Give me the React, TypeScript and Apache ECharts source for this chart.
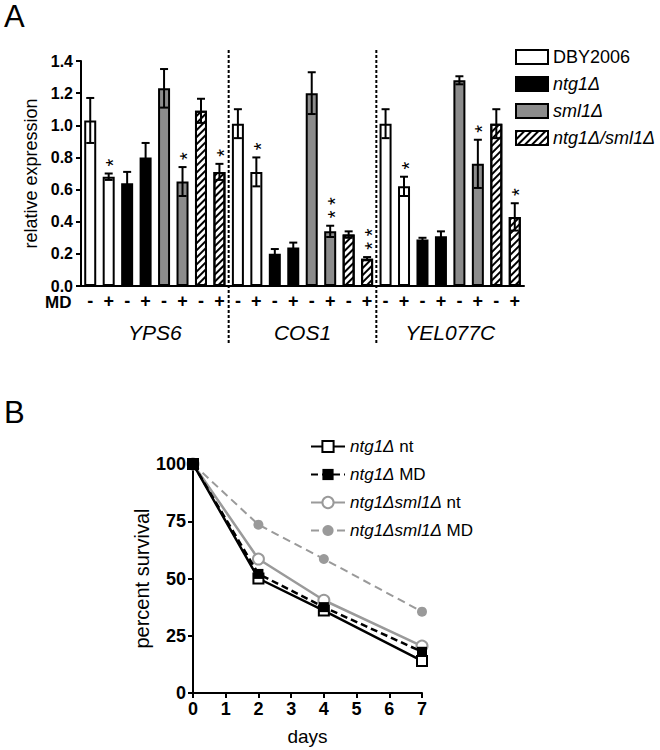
import React, { useEffect, useRef } from 'react';
import * as echarts from 'echarts';

const FONT = '"Liberation Sans", Arial, sans-serif';

// ---------- Panel A data ----------
const genes = ['YPS6', 'COS1', 'YEL077C'];
const strains = ['DBY2006', 'ntg1Δ', 'sml1Δ', 'ntg1Δ/sml1Δ'];
const treatments = ['-', '+'];
// values ordered per gene: [gene1 -, gene1 +, gene2 -, gene2 +, gene3 -, gene3 +]
const dby2006Mean = [1.03, 0.68, 1.01, 0.71, 1.01, 0.62];
const dby2006Err = [0.14, 0.02, 0.09, 0.09, 0.09, 0.06];
const dby2006Stars = [0, 1, 0, 1, 0, 1];
const ntg1Mean = [0.64, 0.8, 0.2, 0.24, 0.29, 0.31];
const ntg1Err = [0.07, 0.09, 0.03, 0.03, 0.01, 0.03];
const ntg1Stars = [0, 0, 0, 0, 0, 0];
const sml1Mean = [1.23, 0.65, 1.2, 0.34, 1.28, 0.76];
const sml1Err = [0.12, 0.09, 0.13, 0.035, 0.025, 0.15];
const sml1Stars = [0, 1, 0, 2, 0, 1];
const doubleMean = [1.09, 0.71, 0.32, 0.17, 1.01, 0.43];
const doubleErr = [0.075, 0.05, 0.02, 0.01, 0.09, 0.085];
const doubleStars = [0, 1, 0, 2, 0, 1];
const yTicksA = { min: 0, max: 1.4, interval: 0.2 };

// ---------- Panel B data ----------
const days = [0, 2, 4, 7];
const ntg1Nt = [100, 50, 36, 14];
const ntg1Md = [100, 52, 37.5, 18];
const doubleNt = [100, 58.5, 40.5, 20.5];
const doubleMd = [100, 73.5, 58.5, 35.5];
const survivalNames = ['ntg1Δ nt', 'ntg1Δ MD', 'ntg1Δsml1Δ nt', 'ntg1Δsml1Δ MD'];

const strainMeans = [dby2006Mean, ntg1Mean, sml1Mean, doubleMean];
const strainErrs = [dby2006Err, ntg1Err, sml1Err, doubleErr];
const strainStars = [dby2006Stars, ntg1Stars, sml1Stars, doubleStars];

const hatch = {
  symbol: 'rect',
  symbolSize: 1,
  color: '#000',
  dashArrayX: [1, 0],
  dashArrayY: [1.5, 3],
  rotation: -Math.PI / 4,
};
const strainStyles: any[] = [
  { color: '#fff' },
  { color: '#000' },
  { color: '#8c8c8c' },
  { color: '#fff', decal: hatch },
];

export default function App() {
  const ref = useRef<HTMLDivElement>(null);
  useEffect(() => {
    if (!ref.current) return;
    const chart = echarts.init(ref.current, null, { renderer: 'svg' });

    const categories: string[] = [];
    genes.forEach((g) => strains.forEach((s) => treatments.forEach((t) => categories.push(`${g}|${s}|${t}`))));
    const idxOf = (g: number, s: number, t: number) => g * 8 + s * 2 + t;

    const barSeries = strains.map((name, s) => {
      const data: any[] = categories.map(() => '-');
      genes.forEach((_, g) => treatments.forEach((__, t) => {
        data[idxOf(g, s, t)] = strainMeans[s][g * 2 + t];
      }));
      return {
        type: 'bar',
        name,
        xAxisIndex: 0,
        yAxisIndex: 0,
        data,
        barWidth: 12,
        barGap: '-100%',
        itemStyle: { ...strainStyles[s], borderColor: '#000', borderWidth: 2 },
        emphasis: { disabled: true },
      };
    });

    const errData: number[][] = [];
    strains.forEach((_, s) => genes.forEach((__, g) => treatments.forEach((___, t) => {
      const k = g * 2 + t;
      const m = strainMeans[s][k];
      const e = strainErrs[s][k];
      errData.push([idxOf(g, s, t), m - e, m + e, strainStars[s][k]]);
    })));

    const gridA = { left: 81, top: 61, width: 443, height: 225 };
    const pitch = gridA.width / categories.length;
    const sepXs = [8, 16].map((k) => gridA.left + k * pitch);

    const lineColorGray = '#9a9a9a';

    const legendFmtA = (name: string) => (name === 'DBY2006' ? name : `{i|${name}}`);
    const legendFmtB = (name: string) => {
      const p = name.lastIndexOf(' ');
      return `{i|${name.slice(0, p)}}{n| ${name.slice(p + 1)}}`;
    };

    const option: any = {
      animation: false,
      textStyle: { fontFamily: FONT, color: '#000' },
      grid: [
        { ...gridA, containLabel: false },
        { left: 193, top: 464, width: 229, height: 229, containLabel: false },
      ],
      legend: [
        {
          data: strains,
          orient: 'vertical',
          left: 515,
          top: 48,
          padding: 0,
          itemWidth: 32,
          itemHeight: 14,
          itemGap: 9,
          icon: 'rect',
          formatter: legendFmtA,
          textStyle: {
            fontFamily: FONT,
            fontSize: 18,
            color: '#000',
            rich: { i: { fontStyle: 'italic', fontSize: 18, fontFamily: FONT, color: '#000' } },
          },
          selectedMode: false,
        },
        {
          data: survivalNames,
          orient: 'vertical',
          left: 310,
          top: 438,
          padding: 0,
          itemWidth: 34,
          itemHeight: 14,
          itemGap: 11,
          formatter: legendFmtB,
          textStyle: {
            fontFamily: FONT,
            fontSize: 17,
            color: '#000',
            rich: {
              i: { fontStyle: 'italic', fontSize: 17, fontFamily: FONT, color: '#000' },
              n: { fontSize: 17, fontFamily: FONT, color: '#000' },
            },
          },
          selectedMode: false,
        },
      ],
      xAxis: [
        {
          type: 'category',
          gridIndex: 0,
          data: categories,
          axisLine: { lineStyle: { color: '#000', width: 2 } },
          axisTick: { show: false },
          axisLabel: {
            interval: 0,
            formatter: (v: string) => v.split('|')[2],
            fontWeight: 'bold',
            fontSize: 18,
            color: '#000',
            margin: 6,
            fontFamily: FONT,
          },
        },
        {
          type: 'category',
          gridIndex: 0,
          position: 'bottom',
          data: genes,
          axisLine: { show: false },
          axisTick: { show: false },
          axisLabel: { fontStyle: 'italic', fontSize: 21, color: '#000', margin: 36, fontFamily: FONT },
        },
        {
          type: 'value',
          gridIndex: 1,
          min: 0,
          max: 7,
          interval: 1,
          name: 'days',
          nameLocation: 'middle',
          nameGap: 34,
          nameTextStyle: { fontSize: 19, color: '#000', fontFamily: FONT },
          axisLine: { lineStyle: { color: '#000', width: 2 } },
          axisTick: { show: true, length: 5, lineStyle: { color: '#000', width: 2 } },
          axisLabel: { fontWeight: 'bold', fontSize: 18, color: '#000', margin: 7, fontFamily: FONT },
          splitLine: { show: false },
        },
      ],
      yAxis: [
        {
          type: 'value',
          gridIndex: 0,
          ...yTicksA,
          name: 'relative expression',
          nameLocation: 'middle',
          nameGap: 40,
          nameTextStyle: { fontSize: 18, color: '#000', fontFamily: FONT },
          axisLine: { show: true, lineStyle: { color: '#000', width: 2 } },
          axisTick: { show: true, length: 5, lineStyle: { color: '#000', width: 2 } },
          axisLabel: {
            formatter: (v: number) => v.toFixed(1),
            fontWeight: 'bold',
            fontSize: 16,
            color: '#000',
            margin: 8,
            fontFamily: FONT,
          },
          splitLine: { show: false },
        },
        {
          type: 'value',
          gridIndex: 1,
          min: 0,
          max: 100,
          interval: 25,
          name: 'percent survival',
          nameLocation: 'middle',
          nameGap: 34,
          nameTextStyle: { fontSize: 20, color: '#000', fontFamily: FONT },
          axisLine: { show: true, lineStyle: { color: '#000', width: 2 } },
          axisTick: { show: true, length: 5, lineStyle: { color: '#000', width: 2 } },
          axisLabel: { fontWeight: 'bold', fontSize: 18, color: '#000', margin: 7, fontFamily: FONT },
          splitLine: { show: false },
        },
      ],
      series: [
        ...barSeries,
        {
          type: 'custom',
          name: 'errors',
          xAxisIndex: 0,
          yAxisIndex: 0,
          data: errData,
          encode: { x: 0, y: [1, 2] },
          z: 10,
          silent: true,
          renderItem: (params: any, api: any) => {
            const x = api.value(0);
            const lo = api.value(1);
            const hi = api.value(2);
            const stars = api.value(3);
            const pHi = api.coord([x, hi]);
            const pLo = api.coord([x, lo]);
            const cap = 4;
            const st = { stroke: '#000', lineWidth: 2 };
            const children: any[] = [
              { type: 'line', shape: { x1: pHi[0], y1: pHi[1], x2: pLo[0], y2: pLo[1] }, style: st },
              { type: 'line', shape: { x1: pHi[0] - cap, y1: pHi[1], x2: pHi[0] + cap, y2: pHi[1] }, style: st },
              { type: 'line', shape: { x1: pLo[0] - cap, y1: pLo[1], x2: pLo[0] + cap, y2: pLo[1] }, style: st },
            ];
            if (stars > 0) {
              // stars are stacked vertically: one text, turned upright
              children.push({
                type: 'text',
                x: pHi[0] + 4.5,
                y: pHi[1] - 11 - 7 * (stars - 1),
                rotation: Math.PI / 2,
                style: {
                  text: new Array(stars).fill('*').join(' '),
                  fontSize: 20,
                  fontFamily: FONT,
                  fill: '#000',
                  textAlign: 'center',
                  textVerticalAlign: 'middle',
                },
              });
            }
            return { type: 'group', children };
          },
        },
        {
          type: 'line',
          name: survivalNames[0],
          xAxisIndex: 2,
          yAxisIndex: 1,
          data: days.map((d, i) => [d, ntg1Nt[i]]),
          symbol: 'rect',
          symbolSize: 10,
          lineStyle: { color: '#000', width: 2.5, type: 'solid' },
          itemStyle: { color: '#fff', borderColor: '#000', borderWidth: 2 },
          z: 4,
        },
        {
          type: 'line',
          name: survivalNames[1],
          xAxisIndex: 2,
          yAxisIndex: 1,
          data: days.map((d, i) => [d, ntg1Md[i]]),
          symbol: 'rect',
          symbolSize: 10,
          lineStyle: { color: '#000', width: 2.5, type: [7, 4] },
          itemStyle: { color: '#000', borderColor: '#000', borderWidth: 0 },
          z: 5,
        },
        {
          type: 'line',
          name: survivalNames[2],
          xAxisIndex: 2,
          yAxisIndex: 1,
          data: days.map((d, i) => [d, doubleNt[i]]),
          symbol: 'circle',
          symbolSize: 11,
          lineStyle: { color: lineColorGray, width: 2.5, type: 'solid' },
          itemStyle: { color: '#fff', borderColor: lineColorGray, borderWidth: 2 },
          z: 3,
        },
        {
          type: 'line',
          name: survivalNames[3],
          xAxisIndex: 2,
          yAxisIndex: 1,
          data: days.map((d, i) => [d, doubleMd[i]]),
          symbol: 'circle',
          symbolSize: 10,
          lineStyle: { color: lineColorGray, width: 2, type: [8, 5] },
          itemStyle: { color: lineColorGray, borderWidth: 0 },
          z: 2,
        },
      ],
      graphic: [
        { type: 'text', left: 4, top: 1, style: { text: 'A', fontSize: 31, fontFamily: FONT, fill: '#000' } },
        { type: 'text', left: 4, top: 397, style: { text: 'B', fontSize: 31, fontFamily: FONT, fill: '#000' } },
        {
          type: 'text',
          left: 45,
          top: 294,
          style: { text: 'MD', fontSize: 17, fontWeight: 'bold', fontFamily: FONT, fill: '#000' },
        },
        ...sepXs.map((x) => ({
          type: 'line',
          shape: { x1: x, y1: 50, x2: x, y2: 345 },
          style: { stroke: '#000', lineWidth: 2, lineDash: [3, 2] },
          z: 20,
        })),
      ],
    };

    chart.setOption(option);
    return () => chart.dispose();
  }, []);

  return <div ref={ref} style={{ position: 'absolute', left: 0, top: 0, width: 660, height: 750 }} />;
}
